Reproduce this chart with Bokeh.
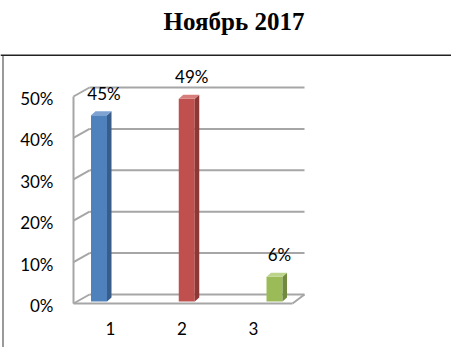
from bokeh.plotting import figure
from bokeh.layouts import column, row, Spacer
from bokeh.models import (Range1d, LinearAxis, FixedTicker, ColumnDataSource, LabelSet)
from bokeh.core.properties import value
from bokeh.embed import file_html
from bokeh.resources import INLINE

# ---------------- data ----------------
title_text = "Ноябрь 2017"
categories = ["1", "2", "3"]
cat_pos = [1, 2, 3]
values = [45, 49, 6]
value_labels = ["45%", "49%", "6%"]
tick_values = [0, 10, 20, 30, 40, 50]
tick_labels = ["0%", "10%", "20%", "30%", "40%", "50%"]
front_colors = ["#4F81BD", "#C0504D", "#9BBB59"]
side_colors = ["#385D8A", "#8C3836", "#71893F"]
top_colors = ["#7EA3D3", "#D77E7B", "#BCD38A"]

# ---------------- layout / style ----------------
W, H = 451, 347
TITLE_H = 56            # height of the title strip
GAP_W = 2               # white gap left of the border line
EDGE_W = 2              # width of the grey border line
FL, FR, FT, FB = 70, 308, 60, 308          # main frame edges (page px)
PX_PER_PCT = 4.14
BACK_ZERO_PX = 294
PX_PER_CAT = 87.75
FIRST_BAR_PX = 98.5
LBL_PX_PER_CAT = 71.5
FIRST_LBL_PX = 110

def xd(px):
    return 1 + (px - FIRST_BAR_PX) / PX_PER_CAT

def yd(px):
    return (BACK_ZERO_PX - px) / PX_PER_PCT

y_start, y_end = yd(FB), yd(FT)
x_start, x_end = xd(FL), xd(FR)
LABEL_SHIFT = 11 / PX_PER_PCT
DEPTH_Y = 9 / PX_PER_PCT
WALL_FRONT_X = xd(73)
WALL_BACK_X = xd(89)
WALL_RIGHT_X = xd(304)
FLOOR_FRONT_RIGHT_X = xd(292)
BAR_BASE = yd(301)
BAR_HW = 8 / PX_PER_CAT
SIDE_DX = 4.5 / PX_PER_CAT
SIDE_DY = 4 / PX_PER_PCT
FONT = "Lato"
FS = "17px"
GRID_COLOR = "#A6A6A6"

# ---------------- title strip ----------------
t = figure(width=W, height=TITLE_H, output_backend="svg", toolbar_location=None,
           x_range=Range1d(0, W), y_range=Range1d(TITLE_H, 0),
           x_axis_location=None, y_axis_location=None,
           min_border=0, min_border_left=0, min_border_right=0,
           min_border_top=0, min_border_bottom=0)
t.title.visible = False
t.outline_line_color = None
t.xgrid.visible = False
t.ygrid.visible = False
t.text(x=[233.5], y=[20.5], text=[title_text], text_align="center",
       text_baseline="alphabetic", text_font=value("Liberation Serif"),
       text_font_style="bold", text_font_size="25px", text_color="black")
t.hspan(y=[55], line_color="#222222", line_width=2)

# ---------------- left border line ----------------
gap = Spacer(width=GAP_W, height=H - TITLE_H)
edge = Spacer(width=EDGE_W, height=H - TITLE_H,
              styles={"background-color": "#9A9A9A"})

# ---------------- main chart ----------------
OX = GAP_W + EDGE_W
p = figure(width=W - OX, height=H - TITLE_H, output_backend="svg", toolbar_location=None,
           x_range=Range1d(x_start, x_end), y_range=Range1d(y_start, y_end),
           x_axis_location=None, y_axis_location=None,
           min_border_left=FL - OX, min_border_right=W - FR,
           min_border_top=FT - TITLE_H, min_border_bottom=H - FB)
p.title.visible = False
p.outline_line_color = None
p.xgrid.visible = False
p.ygrid.visible = False
p.background_fill_color = "white"
p.border_fill_color = "white"

p.extra_y_ranges = {"front": Range1d(y_start + LABEL_SHIFT, y_end + LABEL_SHIFT)}
p.extra_x_ranges = {"labels": Range1d(1 + (FL - FIRST_LBL_PX) / LBL_PX_PER_CAT,
                                      1 + (FR - FIRST_LBL_PX) / LBL_PX_PER_CAT)}

# walls & gridlines
top_tick = max(tick_values)
gx0, gy0, gx1, gy1 = [], [], [], []
for tv in tick_values:
    gx0.append(WALL_BACK_X); gy0.append(tv); gx1.append(WALL_RIGHT_X); gy1.append(tv)
    gx0.append(WALL_FRONT_X); gy0.append(tv - DEPTH_Y); gx1.append(WALL_BACK_X); gy1.append(tv)
gx0.append(WALL_FRONT_X); gy0.append(-DEPTH_Y); gx1.append(WALL_FRONT_X); gy1.append(top_tick - DEPTH_Y)
gx0.append(WALL_FRONT_X); gy0.append(-DEPTH_Y); gx1.append(FLOOR_FRONT_RIGHT_X); gy1.append(-DEPTH_Y)
gx0.append(FLOOR_FRONT_RIGHT_X); gy0.append(-DEPTH_Y); gx1.append(WALL_RIGHT_X); gy1.append(0)
p.segment(x0=gx0, y0=gy0, x1=gx1, y1=gy1, line_color=GRID_COLOR, line_width=2)

# 3D bars
fx, fy, sx, sy, tx, ty = [], [], [], [], [], []
for c, v in zip(cat_pos, values):
    l, r = c - BAR_HW, c + BAR_HW
    b, tp = BAR_BASE, BAR_BASE + v
    fx.append([l, r, r, l]); fy.append([b, b, tp, tp])
    sx.append([r, r + SIDE_DX, r + SIDE_DX, r]); sy.append([b, b + SIDE_DY, tp + SIDE_DY, tp])
    tx.append([l, r, r + SIDE_DX, l + SIDE_DX]); ty.append([tp, tp, tp + SIDE_DY, tp + SIDE_DY])
p.patches(xs=fx, ys=fy, fill_color=front_colors, line_color=None)
p.patches(xs=sx, ys=sy, fill_color=side_colors, line_color=None)
p.patches(xs=tx, ys=ty, fill_color=top_colors, line_color=None)

# value labels
LABEL_DY = 3.6
src = ColumnDataSource(dict(x=cat_pos, y=[v + LABEL_DY for v in values], t=value_labels))
p.add_layout(LabelSet(x="x", y="y", text="t", source=src, x_offset=5,
                      text_align="center", text_baseline="middle",
                      text_font=value(FONT), text_font_size=value(FS),
                      text_color="black"))

# axes
yax = LinearAxis(y_range_name="front", ticker=FixedTicker(ticks=tick_values),
                 major_label_overrides=dict(zip(tick_values, tick_labels)))
yax.axis_line_color = None
yax.major_tick_line_color = None
yax.minor_tick_line_color = None
yax.major_tick_out = 0
yax.major_tick_in = 0
yax.major_label_standoff = 17
yax.major_label_text_font = FONT
yax.major_label_text_font_size = FS
yax.major_label_text_color = "black"
p.add_layout(yax, "left")

xax = LinearAxis(x_range_name="labels", ticker=FixedTicker(ticks=cat_pos),
                 major_label_overrides=dict(zip(cat_pos, categories)))
xax.axis_line_color = None
xax.major_tick_line_color = None
xax.minor_tick_line_color = None
xax.major_tick_out = 0
xax.major_tick_in = 0
xax.major_label_standoff = 13
xax.major_label_text_font = FONT
xax.major_label_text_font_size = FS
xax.major_label_text_color = "black"
p.add_layout(xax, "below")

layout = column(t, row(gap, edge, p, spacing=0), spacing=0)
open("out.html", "w").write(file_html(layout, INLINE))
